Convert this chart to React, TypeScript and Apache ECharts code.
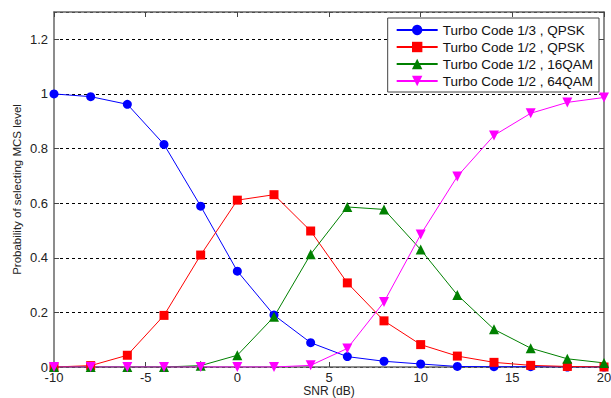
import React, { useEffect, useRef } from "react";
import * as echarts from "echarts";

const snr = [-10, -8, -6, -4, -2, 0, 2, 4, 6, 8, 10, 12, 14, 16, 18, 20];
const turbo13Qpsk = [1.0, 0.99, 0.962, 0.815, 0.589, 0.351, 0.19, 0.089, 0.038, 0.021, 0.011, 0.002, 0.001, 0.001, 0.0, 0.0];
const turbo12Qpsk = [0.0, 0.005, 0.043, 0.189, 0.41, 0.611, 0.631, 0.498, 0.308, 0.169, 0.082, 0.04, 0.017, 0.006, 0.002, 0.0];
const turbo12Qam16 = [0.0, 0.0, 0.0, 0.0, 0.005, 0.043, 0.184, 0.413, 0.586, 0.577, 0.43, 0.264, 0.138, 0.069, 0.03, 0.015];
const turbo12Qam64 = [0.0, 0.0, 0.0, 0.0, 0.0, 0.0, 0.0, 0.006, 0.068, 0.238, 0.485, 0.698, 0.848, 0.929, 0.969, 0.987];
const seriesNames = [
  "Turbo Code 1/3 , QPSK",
  "Turbo Code 1/2 , QPSK",
  "Turbo Code 1/2 , 16QAM",
  "Turbo Code 1/2 , 64QAM",
];

const FONT = "Liberation Sans, Arial, sans-serif";

export default function App() {
  const ref = useRef<HTMLDivElement>(null);
  useEffect(() => {
    if (!ref.current) return;
    const chart = echarts.init(ref.current, null, { renderer: "svg" });
    const mk = (name: string, data: number[], color: string, symbol: string, size: number, rotate = 0) => ({
      name,
      type: "line",
      data: snr.map((x, i) => [x, data[i]]),
      symbol,
      symbolSize: size,
      symbolRotate: rotate,
      showAllSymbol: true,
      lineStyle: { color, width: 1 },
      itemStyle: { color },
      xAxisIndex: 0,
      yAxisIndex: 0,
    });
    const axisLine = { show: true, onZero: false, lineStyle: { color: "#666", width: 1.5 } };
    const tick = { show: true, inside: true, length: 5, lineStyle: { color: "#444" } };
    chart.setOption({
      animation: false,
      backgroundColor: "#fff",
      textStyle: { fontFamily: FONT },
      grid: { left: 54, right: 7, top: 12, bottom: 31, containLabel: false, outerBoundsMode: "none" },
      legend: {
        orient: "vertical",
        right: 12,
        top: 18,
        padding: [5, 6, 4, 8],
        itemGap: 3,
        itemWidth: 41,
        itemHeight: 13,
        backgroundColor: "#fff",
        borderColor: "#444",
        borderWidth: 1,
        textStyle: { fontFamily: FONT, fontSize: 13.5, color: "#111", lineHeight: 14 },
        data: seriesNames,
      },
      xAxis: [
        {
          type: "value",
          min: -10,
          max: 20,
          interval: 5,
          name: "SNR (dB)",
          nameLocation: "middle",
          nameGap: 18,
          nameMoveOverlap: false,
          nameTextStyle: { fontSize: 12, lineHeight: 12, color: "#222", fontFamily: FONT },
          axisLine,
          axisTick: tick,
          axisLabel: { fontSize: 13, lineHeight: 13, color: "#222", margin: 4, fontFamily: FONT },
          splitLine: { show: false },
        },
        {
          type: "value",
          position: "top",
          min: -10,
          max: 20,
          interval: 5,
          axisLine,
          axisTick: tick,
          axisLabel: { show: false },
          splitLine: { show: false },
        },
      ],
      yAxis: [
        {
          type: "value",
          min: 0,
          max: 1.3,
          interval: 0.2,
          name: "Probability of selecting MCS level",
          nameLocation: "middle",
          nameGap: 31,
          nameMoveOverlap: false,
          nameTextStyle: { fontSize: 11.5, color: "#222", fontFamily: FONT },
          axisLine,
          axisTick: tick,
          axisLabel: {
            fontSize: 13,
            color: "#222",
            margin: 6,
            fontFamily: FONT,
            showMaxLabel: false,
            formatter: (v: number) => (v > 1.25 ? "" : String(Math.round(v * 10) / 10)),
          },
          splitLine: { show: true, lineStyle: { color: "#000", type: [3, 3], width: 1 } },
        },
        {
          type: "value",
          position: "right",
          min: 0,
          max: 1.3,
          interval: 0.2,
          axisLine,
          axisTick: tick,
          axisLabel: { show: false },
          splitLine: { show: false },
        },
      ],
      series: [
        mk(seriesNames[0], turbo13Qpsk, "#0000ff", "circle", 9),
        mk(seriesNames[1], turbo12Qpsk, "#ff0000", "rect", 9),
        mk(seriesNames[2], turbo12Qam16, "#008000", "triangle", 10),
        mk(seriesNames[3], turbo12Qam64, "#ff00ff", "triangle", 10, 180),
      ],
    });
    return () => chart.dispose();
  }, []);
  return (
    <div
      ref={ref}
      style={{ position: "fixed", left: 0, top: 0, width: 611, height: 398 }}
    />
  );
}
